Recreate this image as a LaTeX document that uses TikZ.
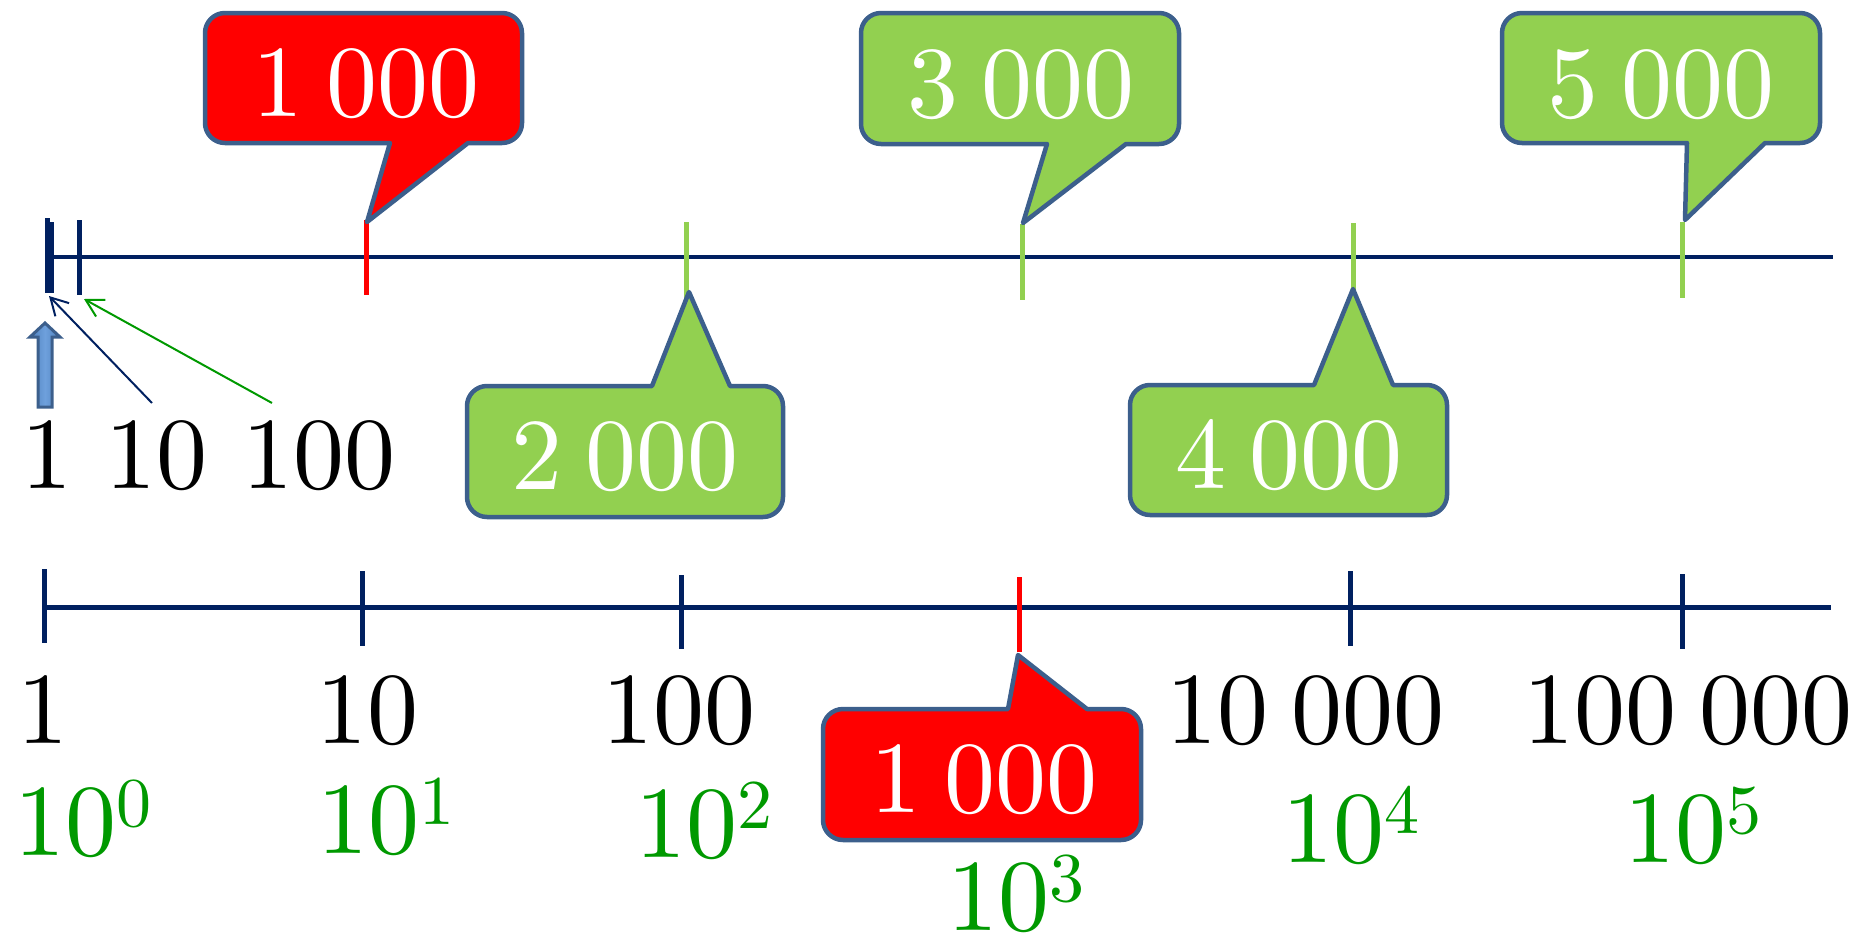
\documentclass[tikz,border=0pt]{standalone}
\usepackage{fontspec}
\setmainfont{lmroman10-regular.otf}
\usetikzlibrary{arrows.meta}

\definecolor{axisnavy}{RGB}{0,32,96}
\definecolor{tickgreen}{RGB}{146,208,80}
\definecolor{bubbleedge}{RGB}{60,95,140}
\definecolor{powgreen}{RGB}{0,153,0}
\definecolor{blockmid}{RGB}{79,129,189}
\definecolor{blocklight}{RGB}{110,160,220}

\newcommand{\bignum}{\fontsize{102}{110}\selectfont}
\newcommand{\supnum}{\fontsize{70}{70}\selectfont}
\newcommand{\numgap}{\hspace{0.22em}}
\newcommand{\powten}[1]{10\raisebox{29pt}{\supnum #1}}

% rounded speech bubble with its pointer below the box
% args: x1 y1 x2 y2 (box), p1 p2 (pointer base), tx ty (tip), fill colour
\newcommand{\bubbledown}[9]{%
  \path[bubble, fill=#9] (#1+20,#2) -- (#3-20,#2)
    arc[start angle=-90, end angle=0, radius=20] -- (#3,#4-20)
    arc[start angle=0, end angle=90, radius=20] -- (#6,#4) -- (#7,#8) -- (#5,#4)
    -- (#1+20,#4) arc[start angle=90, end angle=180, radius=20] -- (#1,#2+20)
    arc[start angle=180, end angle=270, radius=20] -- cycle;}
% same, with the pointer above the box
\newcommand{\bubbleup}[9]{%
  \path[bubble, fill=#9] (#1+20,#2) -- (#5,#2) -- (#7,#8) -- (#6,#2) -- (#3-20,#2)
    arc[start angle=-90, end angle=0, radius=20] -- (#3,#4-20)
    arc[start angle=0, end angle=90, radius=20] -- (#1+20,#4)
    arc[start angle=90, end angle=180, radius=20] -- (#1,#2+20)
    arc[start angle=180, end angle=270, radius=20] -- cycle;}

\begin{document}
\begin{tikzpicture}[x=1pt, y=-1pt,
  axisline/.style={draw=axisnavy, line width=4.5},
  navytick/.style={draw=axisnavy, line width=5},
  redtick/.style={draw=red, line width=5},
  greentick/.style={draw=tickgreen, line width=5},
  bubble/.style={draw=bubbleedge, line width=4.5, line join=round},
  bubbletext/.style={text=white, font=\bignum, anchor=base, inner sep=0},
  numlabel/.style={text=black, font=\bignum, anchor=base, inner sep=0},
  powlabel/.style={text=powgreen, font=\bignum, anchor=base, inner sep=0},
  pointer/.style={line width=2, -{Straight Barb[length=17pt, width=19pt, line width=2pt]}}
]
\useasboundingbox (0,0) rectangle (1858,945);

% ---------- upper number line ----------
\draw[axisline] (47,257) -- (1833,257);
\draw[navytick] (47.5,218) -- (47.5,293);
\draw[navytick] (51,222) -- (51,293);
\draw[navytick] (79,220) -- (79,295);
\draw[redtick] (366,220) -- (366,295);
\draw[greentick] (686,222) -- (686,298);
\draw[greentick] (1022,224) -- (1022,300);
\draw[greentick] (1353,223) -- (1353,299);
\draw[greentick] (1682,222) -- (1682,298);

\coordinate (onebot) at (49,296);
\coordinate (hundredbot) at (84,299);

% ---------- lower number line ----------
\draw[axisline] (44,607.5) -- (1831,607.5);
\draw[navytick] (44,569) -- (44,643);
\draw[navytick] (362,571) -- (362,646);
\draw[navytick] (681,575) -- (681,649);
\draw[navytick] (1350,571) -- (1350,646);
\draw[navytick] (1682,574) -- (1682,649);
\draw[redtick] (1019,577) -- (1019,652);

% ---------- speech bubbles ----------
\bubbledown{205}{13}{522}{143}{390}{468}{367}{222}{red}
\node[bubbletext] (b1000top) at (366,116) {1\numgap000};

\bubbleup{467}{386}{783}{517}{652}{730}{689}{292}{tickgreen}
\node[bubbletext] (b2000) at (625,489) {2\numgap000};

\bubbledown{861}{13}{1179}{144}{1047}{1126}{1023}{223}{tickgreen}
\node[bubbletext] (b3000) at (1021,117) {3\numgap000};

\bubbleup{1130}{385}{1447}{515}{1314}{1393}{1353}{289}{tickgreen}
\node[bubbletext] (b4000) at (1289,488) {4\numgap000};

\bubbledown{1502}{13}{1820}{143}{1687}{1765}{1685}{220}{tickgreen}
\node[bubbletext] (b5000) at (1661,117) {5\numgap000};

\bubbleup{823}{709}{1141}{840}{1008}{1087}{1018}{655}{red}
\node[bubbletext] (b1000bot) at (984,812) {1\numgap000};

% ---------- labels near the origin of the upper line ----------
\node[numlabel] (u1) at (46.5,488) {1};
\node[numlabel] (u10) at (156.5,488) {10};
\node[numlabel] (u100) at (318.5,488) {100};

\coordinate (tenstart) at (152,403);
\coordinate (hundredstart) at (272,403);
\draw[pointer, axisnavy] (tenstart) -- (onebot);
\draw[pointer, powgreen] (hundredstart) -- (hundredbot);

% block arrow pointing up at the first tick
\shadedraw[draw=bubbleedge, line width=3, line join=miter,
  left color=blockmid, right color=blockmid, middle color=blocklight]
  (38,407) -- (38,337) -- (30,337) -- (45,323) -- (60,337) -- (52,337) -- (52,407) -- cycle;

% ---------- labels of the lower line ----------
\node[numlabel] (l1) at (42.5,743) {1};
\node[numlabel] (l10) at (367.5,743) {10};
\node[numlabel] (l100) at (679,743) {100};
\node[numlabel] (l10k) at (1305.5,743) {10\numgap000};
\node[numlabel] (l100k) at (1688,743) {100\numgap000};

\node[powlabel] (p0) at (82.5,855) {\powten{0}};
\node[powlabel] (p1) at (385.5,853) {\powten{1}};
\node[powlabel] (p2) at (703.5,857) {\powten{2}};
\node[powlabel] (p3) at (1016,930) {\powten{3}};
\node[powlabel] (p4) at (1351,862) {\powten{4}};
\node[powlabel] (p5) at (1692.5,862) {\powten{5}};
\end{tikzpicture}
\end{document}
